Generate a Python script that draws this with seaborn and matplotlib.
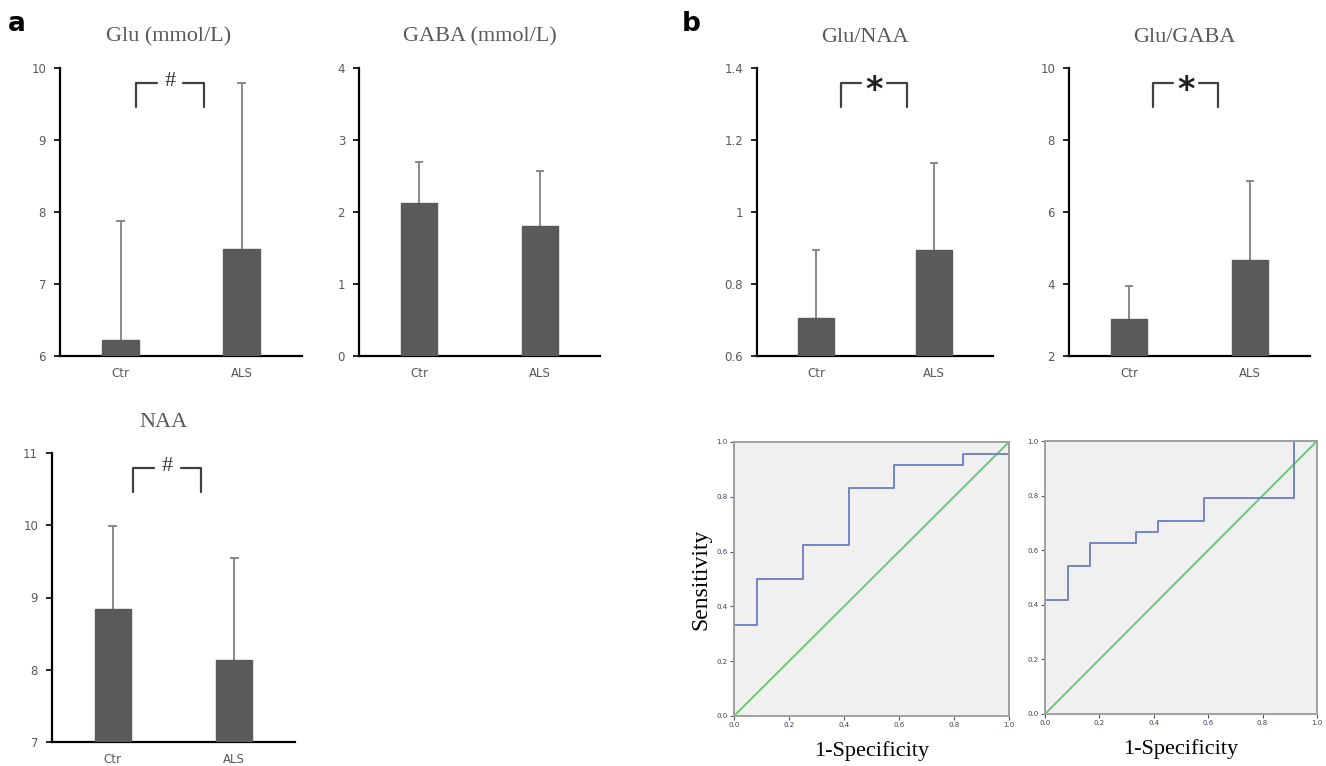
#!/usr/bin/python3
import numpy as np
import pandas as pd
import seaborn as sns
import matplotlib
matplotlib.use("Agg")
import matplotlib.pyplot as plt
import matplotlib.transforms as mtransforms

sns.set_theme(style="white")
plt.rcParams['font.family'] = ['DejaVu Sans']

# --- data ---
groups = ["Ctr", "ALS"]

glu_mean = [6.22, 7.48]
glu_sd = [1.65, 2.31]
gaba_mean = [2.13, 1.80]
gaba_sd = [0.56, 0.77]
naa_mean = [8.84, 8.13]
naa_sd = [1.15, 1.41]
glu_naa_mean = [0.706, 0.895]
glu_naa_sd = [0.189, 0.242]
glu_gaba_mean = [3.03, 4.68]
glu_gaba_sd = [0.92, 2.18]

# ROC curves (1-specificity, sensitivity)
roc1_fpr = [0, 0, 0.083, 0.083, 0.25, 0.25, 0.417, 0.417, 0.583, 0.583, 0.833, 0.833, 1.0, 1.0]
roc1_tpr = [0, 0.333, 0.333, 0.5, 0.5, 0.625, 0.625, 0.833, 0.833, 0.917, 0.917, 0.958, 0.958, 1.0]
roc2_fpr = [0, 0, 0.083, 0.083, 0.167, 0.167, 0.333, 0.333, 0.417, 0.417, 0.583, 0.583, 0.917, 0.917, 1.0]
roc2_tpr = [0, 0.417, 0.417, 0.542, 0.542, 0.625, 0.625, 0.667, 0.667, 0.708, 0.708, 0.792, 0.792, 1.0, 1.0]
ref_line = [0, 1]

W, H = 1326, 766
fig = plt.figure(figsize=(W / 100, H / 100), dpi=100)


def px_axes(left, top, right, bottom):
  return fig.add_axes([left / W, 1 - bottom / H, (right - left) / W, (bottom - top) / H])


BAR = "#5a5a5a"
TXT = "#595959"


def bar_panel(ax, means, sds, title, ylim, yticks, ticklabels, title_x=0.5,
              mark=None, bracket=(0.2, 0.76)):
  df = pd.DataFrame({"group": groups, "value": means})
  sns.barplot(data=df, x="group", y="value", color=BAR, width=0.3,
              saturation=1, ax=ax, zorder=3, edgecolor=BAR)
  # upper error bar only
  tops = [m + s for m, s in zip(means, sds)]
  ax.vlines([0, 1], means, tops, color="#808080", lw=1.3, zorder=1)
  for i, t in enumerate(tops):
    ax.hlines(t, i - 0.035, i + 0.035, color="#808080", lw=1.3, zorder=1)
  ax.set_xlim(-0.5, 1.5)
  ax.set_ylim(*ylim)
  ax.set_yticks(yticks)
  ax.set_yticklabels(ticklabels)
  ax.set_xlabel("")
  ax.set_ylabel("")
  for s in ["top", "right"]:
    ax.spines[s].set_visible(False)
  for s in ["left", "bottom"]:
    ax.spines[s].set_color("black")
    ax.spines[s].set_linewidth(1.6)
  ax.tick_params(axis="y", left=True, length=4, width=1.2, color="black",
                 labelsize=8.5, labelcolor=TXT, pad=6)
  ax.tick_params(axis="x", bottom=False, labelsize=8.5, labelcolor=TXT, pad=2)
  ax.set_title(title, family="Liberation Serif", fontsize=16, color=TXT, pad=19, x=title_x)
  if mark is not None:
    tr = mtransforms.blended_transform_factory(ax.transData, ax.transAxes)
    x0, x1 = bracket
    xc = (x0 + x1) / 2
    y0, y1 = 0.865, 0.948
    kw = dict(color="#404040", lw=1.6, transform=tr, clip_on=False)
    ax.plot([x0, x0, xc - 0.11], [y0, y1, y1], **kw)
    ax.plot([xc + 0.11, x1, x1], [y1, y1, y0], **kw)
    if mark == "#":
      ax.text(xc, y1 + 0.005, "#", transform=tr, ha="center", va="center",
              family="Liberation Serif", fontsize=16, color="#333333")
    else:
      ax.text(xc, y1 - 0.025, "*", transform=tr, ha="center", va="center",
              family="DejaVu Sans", fontsize=24, fontweight="bold", color="#222222")


ax = px_axes(60, 68, 302, 356)
bar_panel(ax, glu_mean, glu_sd, "Glu (mmol/L)", (6, 10), [6, 7, 8, 9, 10],
          ["6", "7", "8", "9", "10"], title_x=0.45, mark="#", bracket=(0.13, 0.69))
ax = px_axes(359, 68, 600, 356)
bar_panel(ax, gaba_mean, gaba_sd, "GABA (mmol/L)", (0, 4), [0, 1, 2, 3, 4],
          ["0", "1", "2", "3", "4"])
ax = px_axes(52, 453, 295, 742)
bar_panel(ax, naa_mean, naa_sd, "NAA", (7, 11), [7, 8, 9, 10, 11],
          ["7", "8", "9", "10", "11"], title_x=0.457, mark="#", bracket=(0.17, 0.73))
ax = px_axes(757, 68, 993, 356)
bar_panel(ax, glu_naa_mean, glu_naa_sd, "Glu/NAA", (0.6, 1.4), [0.6, 0.8, 1.0, 1.2, 1.4],
          ["0.6", "0.8", "1", "1.2", "1.4"], title_x=0.458, mark="*", bracket=(0.21, 0.77))
ax = px_axes(1069, 68, 1310, 356)
bar_panel(ax, glu_gaba_mean, glu_gaba_sd, "Glu/GABA", (2, 10), [2, 4, 6, 8, 10],
          ["2", "4", "6", "8", "10"], title_x=0.477, mark="*", bracket=(0.2, 0.74))


def roc_panel(ax, fpr, tpr, ylabel=None):
  ax.set_facecolor("#f0f0f0")
  sns.lineplot(x=ref_line, y=ref_line, color="#6cc77a", lw=1.4, ax=ax)
  sns.lineplot(x=fpr, y=tpr, sort=False, estimator=None, color="#7484c8", lw=1.4, ax=ax)
  ax.set_xlim(0, 1)
  ax.set_ylim(0, 1)
  ticks = [0, 0.2, 0.4, 0.6, 0.8, 1.0]
  ax.set_xticks(ticks)
  ax.set_yticks(ticks)
  ax.set_xticklabels(["%.1f" % t for t in ticks])
  ax.set_yticklabels(["%.1f" % t for t in ticks])
  ax.tick_params(bottom=True, left=True, length=3, width=0.8, color="#555555",
                 labelsize=5, labelcolor="#404060", pad=1.5)
  for s in ax.spines.values():
    s.set_visible(True)
    s.set_color("#a0a0a0")
    s.set_linewidth(1.4)
  ax.set_xlabel("1-Specificity", family="Liberation Serif", fontsize=16, color="black", labelpad=9)
  if ylabel:
    ax.set_ylabel(ylabel, family="Liberation Serif", fontsize=17, color="black", labelpad=4)
  else:
    ax.set_ylabel("")


ax = px_axes(734, 442, 1009, 716)
roc_panel(ax, roc1_fpr, roc1_tpr, "Sensitivity")
ax = px_axes(1045, 441, 1317, 714)
roc_panel(ax, roc2_fpr, roc2_tpr)

fig.text(8 / W, 1 - 24 / H, "a", fontsize=19, fontweight="bold", color="black", va="center")
fig.text(682 / W, 1 - 24 / H, "b", fontsize=19, fontweight="bold", color="black", va="center")

fig.savefig("out.png", dpi=100, facecolor="white")
